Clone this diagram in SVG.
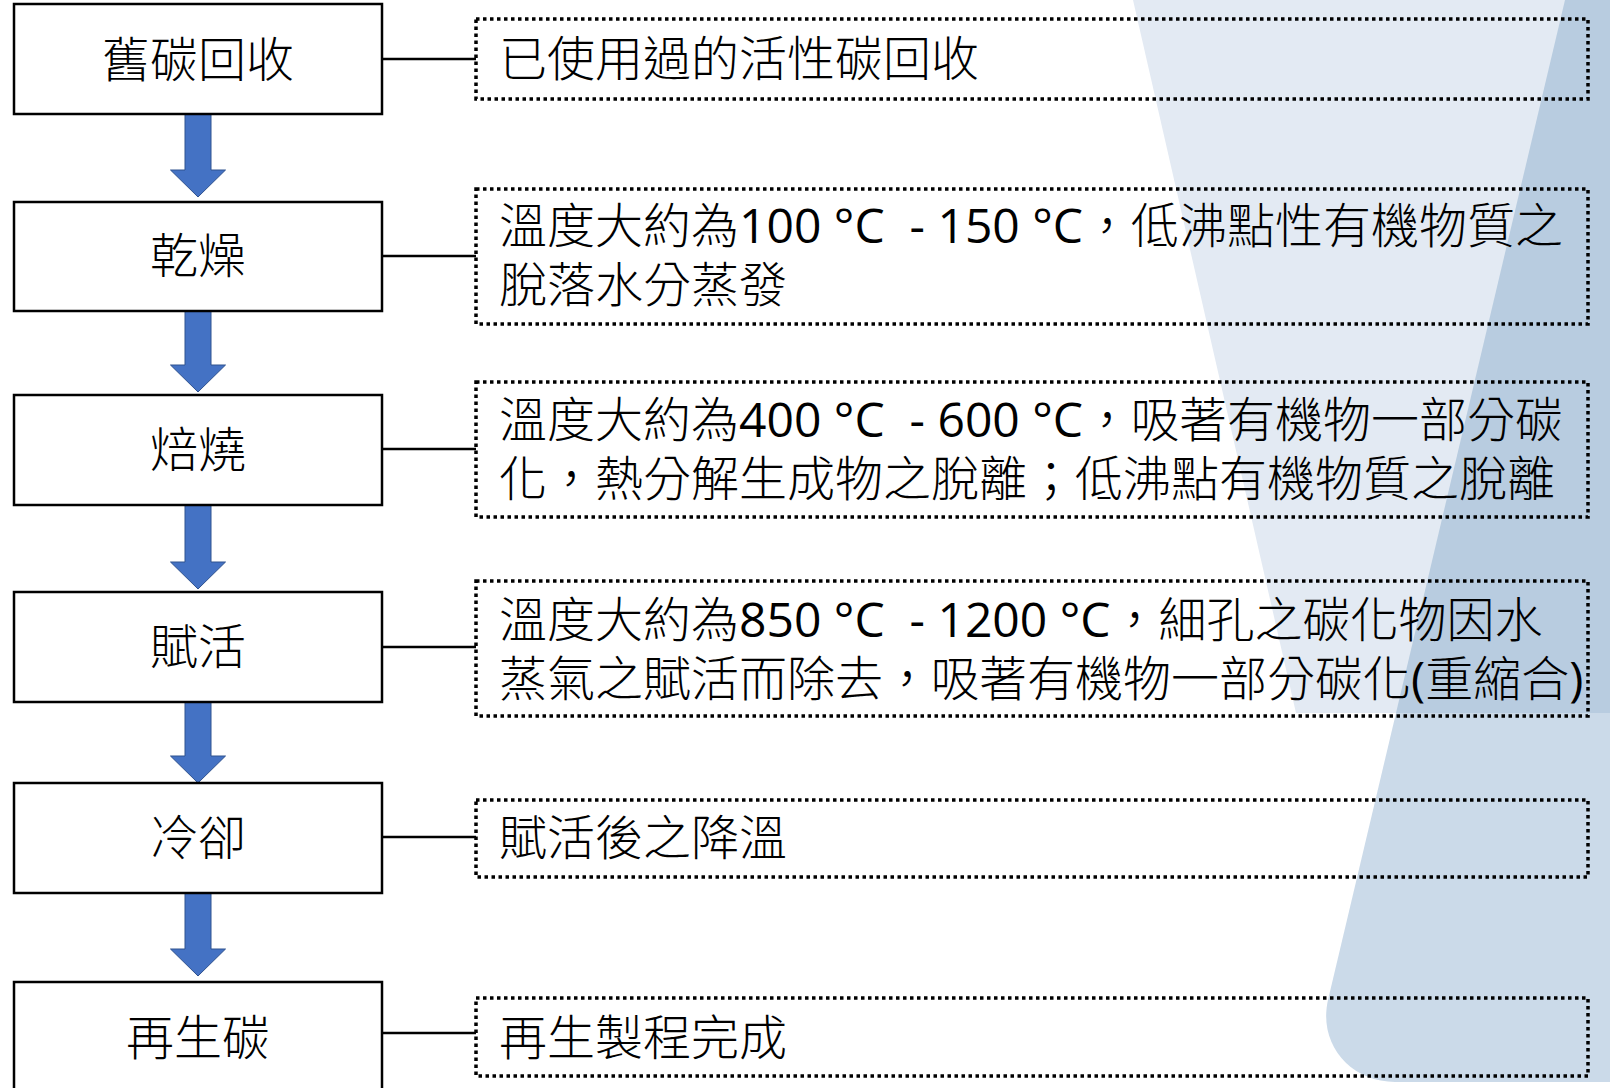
<svg xmlns="http://www.w3.org/2000/svg" width="1610" height="1088" viewBox="0 0 1610 1088">
<style>
.bg-light{fill:#E3EAF3}
.bg-dark{fill:#CBDAE9}
.bg-over{fill:#B8CCE0}
.step rect{fill:#FFFFFF;stroke:#000000;stroke-width:2.5}
.step text{font-family:"Noto Sans CJK TC","Open Sans",sans-serif;font-size:48px;font-weight:300;fill:#000000;text-anchor:middle}
.note rect{fill:none;stroke:#000000;stroke-width:3.5;stroke-dasharray:3.5 3.5}
.note text{font-family:"Noto Sans CJK TC","Open Sans",sans-serif;font-size:48px;font-weight:300;fill:#000000}
.lat{font-family:"Open Sans",sans-serif;font-weight:400}
.link{stroke:#000000;stroke-width:2.5;fill:none}
.arrow{fill:#4472C4;stroke:#2F528F;stroke-width:1}
</style>
<rect x="0" y="0" width="1610" height="1088" fill="#FFFFFF"/>
<g id="background">
<path class="bg-dark" d="M1565,0 H1610 V1082 H1395 C1350,1082 1318,1044 1328,1000 Z"/>
<path class="bg-light" d="M1133,0 H1610 V713 H1296 Z"/>
<path class="bg-over" d="M1565,0 H1610 V713 H1396 Z"/>
</g>
<g id="connectors">
<line class="link" x1="382" y1="59" x2="476" y2="59"/>
<line class="link" x1="382" y1="256" x2="476" y2="256"/>
<line class="link" x1="382" y1="449" x2="476" y2="449"/>
<line class="link" x1="382" y1="647" x2="476" y2="647"/>
<line class="link" x1="382" y1="837" x2="476" y2="837"/>
<line class="link" x1="382" y1="1033" x2="476" y2="1033"/>
<path class="arrow" d="M185,114 H211 V170 H225.5 L198,197 L170.5,170 H185 Z"/>
<path class="arrow" d="M185,311 H211 V365 H225.5 L198,392 L170.5,365 H185 Z"/>
<path class="arrow" d="M185,505 H211 V562 H225.5 L198,589 L170.5,562 H185 Z"/>
<path class="arrow" d="M185,702 H211 V756 H225.5 L198,783 L170.5,756 H185 Z"/>
<path class="arrow" d="M185,893 H211 V949 H225.5 L198,976 L170.5,949 H185 Z"/>
</g>
<g id="step1" class="step"><rect x="14" y="4" width="368" height="110"/><text x="198" y="77">舊碳回收</text></g>
<g id="step2" class="step"><rect x="14" y="202" width="368" height="109"/><text x="198" y="273">乾燥</text></g>
<g id="step3" class="step"><rect x="14" y="395" width="368" height="110"/><text x="198" y="467">焙燒</text></g>
<g id="step4" class="step"><rect x="14" y="592" width="368" height="110"/><text x="198" y="664">賦活</text></g>
<g id="step5" class="step"><rect x="14" y="783" width="368" height="110"/><text x="198" y="855">冷卻</text></g>
<g id="step6" class="step"><rect x="14" y="982" width="368" height="120"/><text x="198" y="1055">再生碳</text></g>
<g id="note1" class="note"><rect x="476" y="19" width="1112" height="80"/><text x="499" y="76">已使用過的活性碳回收</text></g>
<g id="note2" class="note"><rect x="476" y="189" width="1112" height="135"/><text x="499" y="243" xml:space="preserve">溫度大約為<tspan class="lat">100 °C  - 150 °C</tspan>，低沸點性有機物質之</text><text x="499" y="302">脫落水分蒸發</text></g>
<g id="note3" class="note"><rect x="476" y="382" width="1112" height="135"/><text x="499" y="437" xml:space="preserve">溫度大約為<tspan class="lat">400 °C  - 600 °C</tspan>，吸著有機物一部分碳</text><text x="499" y="496">化，熱分解生成物之脫離；低沸點有機物質之脫離</text></g>
<g id="note4" class="note"><rect x="476" y="581" width="1112" height="135"/><text x="499" y="637" xml:space="preserve">溫度大約為<tspan class="lat">850 °C  - 1200 °C</tspan>，細孔之碳化物因水</text><text x="499" y="696">蒸氣之賦活而除去，吸著有機物一部分碳化<tspan class="lat">(</tspan>重縮合<tspan class="lat">)</tspan></text></g>
<g id="note5" class="note"><rect x="476" y="800" width="1112" height="77"/><text x="499" y="855">賦活後之降溫</text></g>
<g id="note6" class="note"><rect x="476" y="998" width="1112" height="78"/><text x="499" y="1055">再生製程完成</text></g>
</svg>
